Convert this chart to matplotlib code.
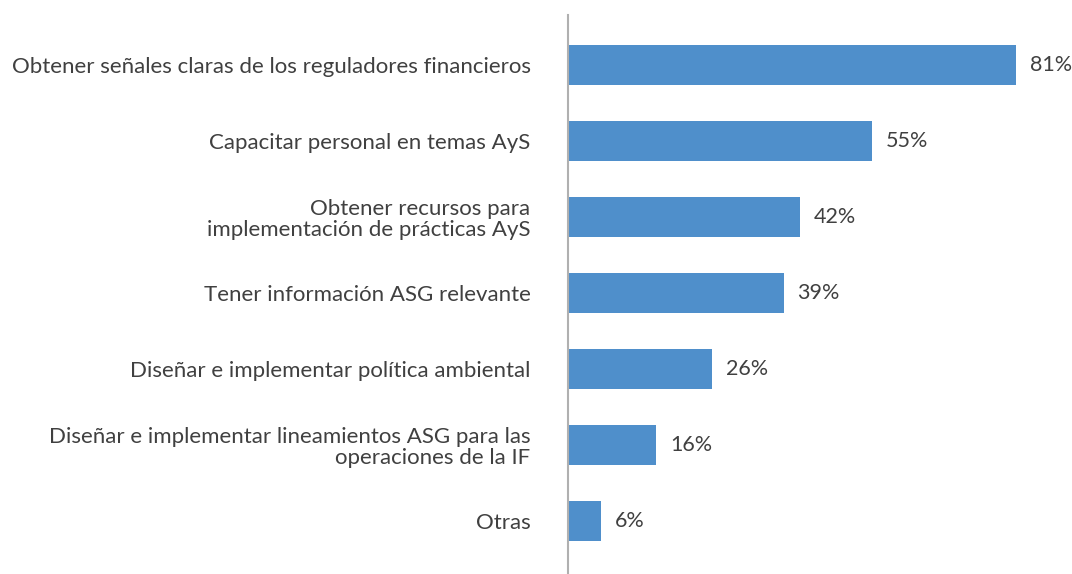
import matplotlib.pyplot as plt

categories = [
    "Obtener señales claras de los reguladores financieros",
    "Capacitar personal en temas AyS",
    "Obtener recursos para\nimplementación de prácticas AyS",
    "Tener información ASG relevante",
    "Diseñar e implementar política ambiental",
    "Diseñar e implementar lineamientos ASG para las\noperaciones de la IF",
    "Otras",
]
values = [81, 55, 42, 39, 26, 16, 6]

bar_color = "#4F8FCB"
text_color = "#404040"

plt.rcParams['font.family'] = ['Lato', 'DejaVu Sans']

fig = plt.figure(figsize=(10.72, 5.74), dpi=100)
ax = fig.add_axes([568 / 1072, 0, 1 - 568 / 1072 - 0.006, 1 - 15 / 574])

pos = list(range(len(categories)))
ax.barh(pos, values, height=0.52, color=bar_color)

for p, v in zip(pos, values):
    ax.annotate(f"{v}%", (v, p), xytext=(10, 0), textcoords="offset points",
                va="center", ha="left", fontsize=15.5, color=text_color)

ax.set_xlim(0, 90)
ax.set_ylim(6.7, -0.66)
ax.set_yticks(pos)
ax.set_yticklabels(categories, fontsize=16, color=text_color, linespacing=1.05)
ax.tick_params(axis="y", length=0, pad=27)
ax.set_xticks([])

for s in ["top", "right", "bottom"]:
    ax.spines[s].set_visible(False)
ax.spines["left"].set_color("#B0B0B0")
ax.spines["left"].set_linewidth(1.5)

fig.savefig("out.png", dpi=100)
